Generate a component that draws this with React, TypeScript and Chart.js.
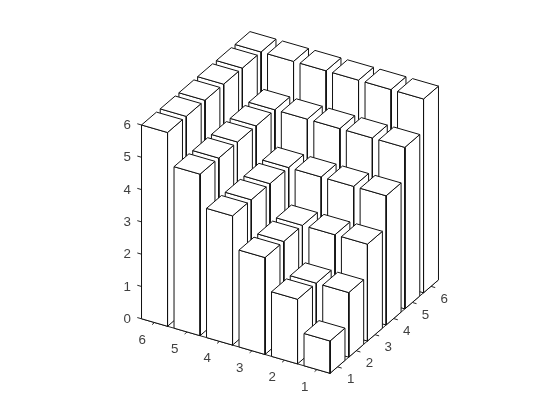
import React, { useEffect, useRef } from 'react';
import { Chart, registerables } from 'chart.js';

Chart.register(...registerables);

// bar3 data: one row per y index, one value per x index
const xTicks = [1, 2, 3, 4, 5, 6];
const yTicks = [1, 2, 3, 4, 5, 6];
const zTicks = [0, 1, 2, 3, 4, 5, 6];
const heights = [
  [1, 2, 3, 4, 5, 6],
  [2, 2, 3, 4, 5, 6],
  [3, 3, 3, 4, 5, 6],
  [4, 4, 4, 4, 5, 6],
  [5, 5, 5, 5, 5, 6],
  [6, 6, 6, 6, 6, 6],
];

const BAR_HALF = 0.4;
const TICK_LEN = 0.13;
const LO = 1 - BAR_HALF;
const HI = 6 + BAR_HALF;
const LINE = '#111111';
const AXIS = '#262626';
const TEXT = '#404040';
const FONT = '13.33px "Liberation Sans", Arial, sans-serif';

// fixed view of the bar3 axes, x and y on the floor and z straight up
const project = (x: number, y: number, z: number) => ({
  x: 338.3 + x * 18.7 - y * 32.5,
  y: 388.6 - x * 16.1 - y * 9.4 - z * 32.3,
});

const poly = (pts: number[][]) => ({
  data: [...pts, pts[0]].map(p => project(p[0], p[1], p[2])),
  showLine: true,
  fill: 'shape',
  backgroundColor: '#ffffff',
  borderColor: LINE,
  borderWidth: 1,
  pointRadius: 0,
  tension: 0,
});

const seg = (a: number[], b: number[]) => ({
  data: [project(a[0], a[1], a[2]), project(b[0], b[1], b[2])],
  showLine: true,
  fill: false,
  borderColor: AXIS,
  borderWidth: 1,
  pointRadius: 0,
});

// first dataset is painted last, so the front bars go first
const barFaces = () => {
  const out: any[] = [];
  heights.forEach((row, r) => {
    row.forEach((h, c) => {
      const x0 = xTicks[c] - BAR_HALF;
      const x1 = xTicks[c] + BAR_HALF;
      const y0 = yTicks[r] - BAR_HALF;
      const y1 = yTicks[r] + BAR_HALF;
      out.push(poly([[x0, y0, h], [x1, y0, h], [x1, y1, h], [x0, y1, h]]));
      out.push(poly([[x0, y0, 0], [x0, y1, 0], [x0, y1, h], [x0, y0, h]]));
      out.push(poly([[x0, y0, 0], [x1, y0, 0], [x1, y0, h], [x0, y0, h]]));
    });
  });
  return out;
};

const axisLines = () => {
  const out: any[] = [
    seg([LO, LO, 0], [HI, LO, 0]),
    seg([LO, LO, 0], [LO, HI, 0]),
    seg([LO, HI, 0], [LO, HI, zTicks[zTicks.length - 1]]),
  ];
  xTicks.forEach(t => out.push(seg([t, LO, 0], [t, LO - TICK_LEN, 0])));
  yTicks.forEach(t => out.push(seg([LO, t, 0], [LO - TICK_LEN, t, 0])));
  zTicks.forEach(t => out.push(seg([LO, HI, t], [LO, HI + TICK_LEN, t])));
  return out;
};

const tickLabels = {
  id: 'tickLabels',
  afterDraw(chart: any) {
    const { ctx, scales } = chart;
    const put = (text: number, p: { x: number; y: number }, dx: number, dy: number) => {
      ctx.fillText(String(text), scales.x.getPixelForValue(p.x) + dx, scales.y.getPixelForValue(p.y) + dy);
    };
    ctx.save();
    ctx.font = FONT;
    ctx.fillStyle = TEXT;
    ctx.textAlign = 'center';
    ctx.textBaseline = 'middle';
    xTicks.forEach(t => put(t, project(t, LO, 0), 13.2, 12.6));
    yTicks.forEach(t => put(t, project(LO, t, 0), -12.4, 17.4));
    zTicks.forEach(t => put(t, project(LO, HI, t), -14.4, 0.5));
    ctx.restore();
  },
};

export default function App() {
  const canvasRef = useRef<HTMLCanvasElement>(null);

  useEffect(() => {
    if (!canvasRef.current) return;
    const chart = new Chart(canvasRef.current, {
      type: 'scatter',
      data: { datasets: [...barFaces(), ...axisLines()] },
      options: {
        responsive: false,
        animation: false,
        layout: { padding: 0 },
        plugins: {
          legend: { display: false },
          tooltip: { enabled: false },
          filler: { drawTime: 'beforeDatasetDraw' },
        },
        scales: {
          x: { type: 'linear', display: false, min: 0, max: 560 },
          y: { type: 'linear', display: false, min: 0, max: 420, reverse: true },
        },
      } as any,
      plugins: [tickLabels],
    });
    return () => chart.destroy();
  }, []);

  return (
    <div style={{ position: 'fixed', left: 0, top: 0, width: 560, height: 420, background: '#fff' }}>
      <canvas ref={canvasRef} width={560} height={420} style={{ display: 'block' }} />
    </div>
  );
}
